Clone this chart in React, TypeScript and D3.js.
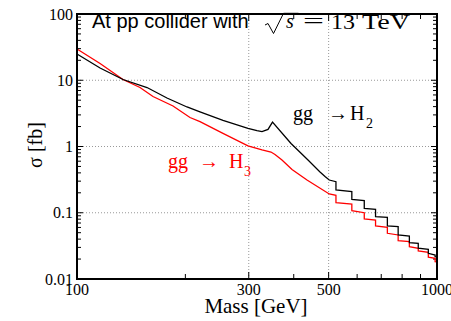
import React from "react";
import * as d3 from "d3";

const massH2 = [100, 115.9, 134.2, 156.5, 177.8, 202.1, 219.6, 254.4, 298.5, 316.2, 326.5, 339.3, 349.2, 393.1, 438.2, 473.2, 488.6, 502,
  524, 524, 580, 580, 628, 628, 675, 675, 728, 728, 780, 780, 838, 838, 887, 887, 946, 946, 988, 988, 1000];
const sigmaH2 = [24.9, 15.3, 10.26, 7.77, 5.4, 3.95, 3.32, 2.47, 1.87, 1.74, 1.68, 1.81, 2.34, 1.11, 0.625, 0.412, 0.353, 0.312,
  0.294, 0.2205, 0.2078, 0.1596, 0.152, 0.1168, 0.1128, 0.0872, 0.0854, 0.0631, 0.0616, 0.0462, 0.0446, 0.0353, 0.0346, 0.0291, 0.0281, 0.0244, 0.023, 0.0217, 0.0215];

const massH3 = [100, 115.9, 134.2, 149.6, 162.6, 184.8, 206.0, 219.6, 254.4, 298.5, 326.5, 345.8, 354.8, 371.0, 395.6, 435.4, 502,
  524, 524, 580, 580, 628, 628, 675, 675, 728, 728, 780, 780, 838, 838, 887, 887, 946, 946, 988, 988, 1000];
const sigmaH3 = [29.6, 17.9, 10.26, 7.77, 5.68, 4.09, 2.74, 2.38, 1.58, 1.02, 0.886, 0.826, 0.757, 0.625, 0.45, 0.312, 0.192,
  0.1834, 0.1418, 0.1356, 0.1074, 0.1002, 0.0805, 0.0777, 0.0631, 0.0603, 0.049, 0.0462, 0.0379, 0.0366, 0.0307, 0.0291, 0.0265, 0.0253, 0.0213, 0.0205, 0.0182, 0.0181];

const xMajorTicks = [100, 300, 500, 1000];
const xTickLabels = ["100", "300", "500", "1000"];
const xMinorTicks = [200, 400, 600, 700, 800, 900];
const xGrid = [300, 500];
const yMajorTicks = [0.01, 0.1, 1, 10, 100];
const yTickLabels = ["0.01", "0.1", "1", "10", "100"];
const yGrid = [0.1, 1, 10];
const yMinorMultipliers = [2, 3, 4, 5, 6, 7, 8, 9];

const W = 451, H = 321;
const L = 77, R = 437, T = 14, B = 279;

export default function App() {
  const x = d3.scaleLog().domain([100, 1000]).range([L, R]);
  const y = d3.scaleLog().domain([0.01, 100]).range([B, T]);
  const line = d3.line<[number, number]>().x(d => x(d[0])).y(d => y(d[1]));
  const h2 = line(massH2.map((m, i) => [m, sigmaH2[i]]));
  const h3 = line(massH3.map((m, i) => [m, sigmaH3[i]]));
  const yMinor: number[] = [];
  yMajorTicks.slice(0, -1).forEach(d => yMinorMultipliers.forEach(k => yMinor.push(d * k)));
  const serif = "'Liberation Serif', 'Times New Roman', serif";
  const sans = "'Liberation Sans', Arial, sans-serif";

  return (
    <svg width={W} height={H} style={{ position: "absolute", left: 0, top: 0, background: "#fff" }}>
      <rect x={0} y={0} width={W} height={H} fill="#fff" />
      {xGrid.map(v => (
        <line key={"gx" + v} x1={x(v)} x2={x(v)} y1={T} y2={B} stroke="#999" strokeWidth={1} strokeDasharray="1,2" />
      ))}
      {yGrid.map(v => (
        <line key={"gy" + v} x1={L} x2={R} y1={y(v)} y2={y(v)} stroke="#999" strokeWidth={1} strokeDasharray="1,2" />
      ))}
      {yMajorTicks.map(v => (
        <g key={"ym" + v}>
          <line x1={L} x2={L + 6} y1={y(v)} y2={y(v)} stroke="#000" strokeWidth={1} />
          <line x1={R} x2={R - 6} y1={y(v)} y2={y(v)} stroke="#000" strokeWidth={1} />
        </g>
      ))}
      {yMinor.map(v => (
        <g key={"yn" + v}>
          <line x1={L} x2={L + 4} y1={y(v)} y2={y(v)} stroke="#000" strokeWidth={1} />
          <line x1={R} x2={R - 4} y1={y(v)} y2={y(v)} stroke="#000" strokeWidth={1} />
        </g>
      ))}
      {xMajorTicks.map(v => (
        <g key={"xm" + v}>
          <line x1={x(v)} x2={x(v)} y1={B} y2={B - 7} stroke="#000" strokeWidth={1} />
          <line x1={x(v)} x2={x(v)} y1={T} y2={T + 7} stroke="#000" strokeWidth={1} />
        </g>
      ))}
      {xMinorTicks.map(v => (
        <g key={"xn" + v}>
          <line x1={x(v)} x2={x(v)} y1={B} y2={B - 5} stroke="#000" strokeWidth={1} />
          <line x1={x(v)} x2={x(v)} y1={T} y2={T + 5} stroke="#000" strokeWidth={1} />
        </g>
      ))}
      <path d={h3 || ""} fill="none" stroke="#ff0000" strokeWidth={1.3} />
      <path d={h2 || ""} fill="none" stroke="#000" strokeWidth={1.3} />
      <rect x={L} y={T} width={R - L} height={B - T} fill="none" stroke="#000" strokeWidth={2} />
      {yMajorTicks.map((v, i) => (
        <text key={"yl" + v} x={73} y={y(v) + 5.5} textAnchor="end" fontFamily={serif} fontSize={16} fill="#000">{yTickLabels[i]}</text>
      ))}
      {xMajorTicks.map((v, i) => (
        <text key={"xl" + v} x={x(v)} y={295} textAnchor="middle" fontFamily={serif} fontSize={16} fill="#000">{xTickLabels[i]}</text>
      ))}
      <text x={256} y={313} textAnchor="middle" fontFamily={serif} fontSize={21} fill="#000">Mass [GeV]</text>
      <text transform="translate(42,145) rotate(-90)" textAnchor="middle" fontFamily={serif} fontSize={20} fill="#000">σ [fb]</text>
      <text x={92} y={28} fontFamily={sans} fontSize={20} fill="#000">At pp collider with</text>
      <path d="M265,25 L268,23.5 L273.5,33.5 L283.5,13.3 L298.5,13.3" fill="none" stroke="#000" strokeWidth={1} />
      <text x={286} y={28} fontFamily={serif} fontStyle="italic" fontSize={20} fill="#000">s</text>
      <text x={303} y={28} fontFamily={serif} fontSize={22} fill="#000" textLength={21} lengthAdjust="spacingAndGlyphs">=</text>
      <text x={331} y={28.5} fontFamily={serif} fontSize={21} fill="#000" textLength={24} lengthAdjust="spacingAndGlyphs">13</text>
      <text x={362} y={28.5} fontFamily={serif} fontSize={21} fill="#000" textLength={48} lengthAdjust="spacingAndGlyphs">TeV</text>
      <text x={293} y={120} fontFamily={serif} fontSize={20} fill="#000">gg</text>
      <text x={328} y={120} fontFamily={serif} fontSize={20} fill="#000">→</text>
      <text x={350} y={120} fontFamily={serif} fontSize={20} fill="#000">H</text>
      <text x={366} y={128} fontFamily={serif} fontSize={14} fill="#000">2</text>
      <text x={168} y={168} fontFamily={serif} fontSize={20} fill="#ff0000">gg</text>
      <text x={199} y={168} fontFamily={serif} fontSize={20} fill="#ff0000">→</text>
      <text x={229} y={168} fontFamily={serif} fontSize={20} fill="#ff0000">H</text>
      <text x={244} y={176} fontFamily={serif} fontSize={14} fill="#ff0000">3</text>
    </svg>
  );
}
